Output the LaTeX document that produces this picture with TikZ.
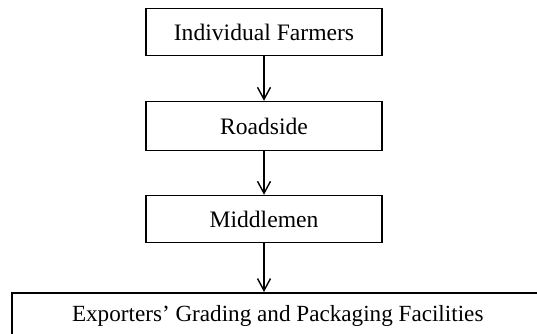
\documentclass[tikz,border=0pt]{standalone}
\usepackage{fontspec}
\setmainfont{Liberation Serif}
\usetikzlibrary{arrows.meta}
\begin{document}
\begin{tikzpicture}[x=1pt,y=1pt,
  stage/.style={draw, line width=1.5pt, minimum width=236pt, minimum height=47pt,
    inner sep=0pt, font=\fontsize{23.6}{25}\selectfont},
  flow/.style={line width=1.5pt, -{Straight Barb[length=12pt,width=13pt,line width=1.4pt]}}]
  \clip (0,0) rectangle (537,333);
  \fill[white] (0,0) rectangle (537,333);
  \node[stage] (farm) at (264,301) {Individual Farmers};
  \node[stage, minimum height=49pt] (road) at (264,207) {Roadside};
  \node[stage] (mid) at (264,114) {Middlemen};
  \node[stage, minimum width=534pt, minimum height=46pt, anchor=north west,
    font=\fontsize{23.15}{25}\selectfont] (exp) at (11,41)
    {\hspace*{-2pt}Exporters' Grading and Packaging Facilities};
  \draw[flow] (farm.south) -- (road.north);
  \draw[flow] (road.south) -- (mid.north);
  \draw[flow] (mid.south) -- (mid.south |- exp.north);
\end{tikzpicture}
\end{document}
